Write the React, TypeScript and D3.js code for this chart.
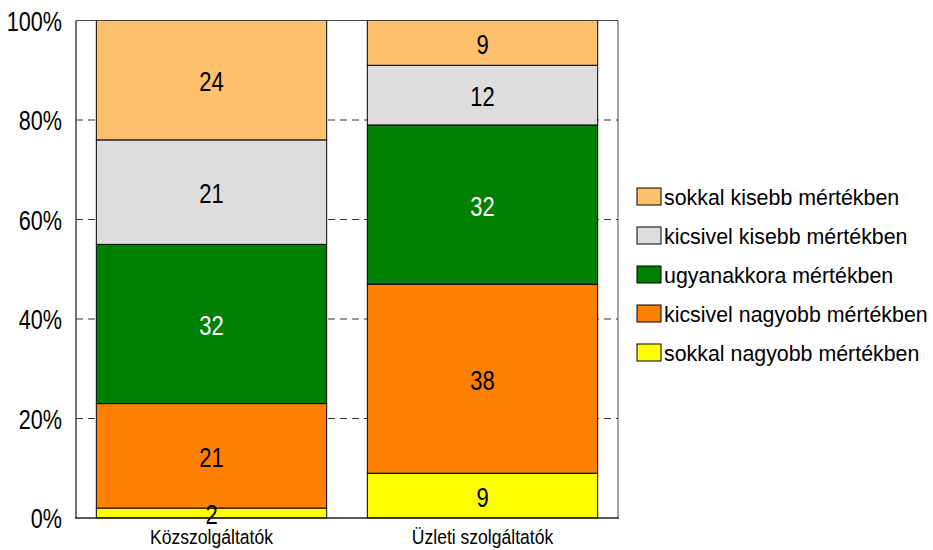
import React, { useEffect, useRef } from "react";
import * as d3 from "d3";

const WIDTH = 933;
const HEIGHT = 550;

const categories = ["Közszolgáltatók", "Üzleti szolgáltatók"];

// Series listed bottom-to-top of the stack
const seriesNames = [
  "sokkal nagyobb mértékben",
  "kicsivel nagyobb mértékben",
  "ugyanakkora mértékben",
  "kicsivel kisebb mértékben",
  "sokkal kisebb mértékben",
];
const seriesColors = ["#FFFF00", "#FF8000", "#008000", "#DDDDDD", "#FFC06C"];
const labelColors = ["#000", "#000", "#fff", "#000", "#000"];

const sokkalNagyobb = [2, 9];
const kicsivelNagyobb = [21, 38];
const ugyanakkora = [32, 32];
const kicsivelKisebb = [21, 12];
const sokkalKisebb = [24, 9];

const yTicks = [0, 20, 40, 60, 80, 100];

const FONT = "'Liberation Sans', Arial, sans-serif";

export default function App() {
  const ref = useRef<SVGSVGElement>(null);

  useEffect(() => {
    const svg = d3.select(ref.current);
    svg.selectAll("*").remove();

    const left = 76, right = 618, top = 20.5, bottom = 518;
    const values = [sokkalNagyobb, kicsivelNagyobb, ugyanakkora, kicsivelKisebb, sokkalKisebb];

    const rows = categories.map((c, i) => {
      const r: Record<string, any> = { cat: c };
      seriesNames.forEach((s, k) => (r[s] = values[k][i]));
      return r;
    });
    const stacked = d3.stack<any>().keys(seriesNames)(rows);

    const x = d3.scaleBand().domain(categories).range([left, right]).paddingInner(0.15).paddingOuter(0.075);
    const y = d3.scaleLinear().domain([0, 100]).range([bottom, top]);

    // condensed text: horizontal squeeze of a regular sans face
    const place = (tx: number, ty: number, sx: number) => `translate(${tx},${ty}) scale(${sx},1)`;

    // dashed gridlines
    svg.append("g")
      .selectAll("line")
      .data(yTicks.filter((t) => t > 0 && t < 100))
      .join("line")
      .attr("x1", left).attr("x2", right)
      .attr("y1", (d) => y(d)).attr("y2", (d) => y(d))
      .attr("stroke", "#333").attr("stroke-width", 1)
      .attr("stroke-dasharray", "7,5");

    // stacked bars
    const layers = svg.append("g")
      .selectAll("g")
      .data(stacked)
      .join("g")
      .attr("fill", (_d, i) => seriesColors[i]);

    layers.selectAll("rect")
      .data((d) => d.map((p) => ({ p, key: d.key })))
      .join("rect")
      .attr("x", (d) => x(d.p.data.cat)!)
      .attr("width", x.bandwidth())
      .attr("y", (d) => y(d.p[1]))
      .attr("height", (d) => y(d.p[0]) - y(d.p[1]))
      .attr("stroke", "#000").attr("stroke-width", 1);

    // value labels
    stacked.forEach((layer, k) => {
      svg.append("g")
        .selectAll("text")
        .data(layer)
        .join("text")
        .attr("transform", (d) =>
          place(x(d.data.cat)! + x.bandwidth() / 2, (y(d[0]) + y(d[1])) / 2 + 11, 0.8))
        .attr("text-anchor", "middle")
        .attr("font-family", FONT)
        .attr("font-size", 27.5)
        .attr("fill", labelColors[k])
        .text((d) => String(d[1] - d[0]));
    });

    // frame
    const frame = svg.append("g").attr("fill", "none");
    frame.append("line").attr("x1", left).attr("x2", right).attr("y1", top).attr("y2", top).attr("stroke", "#444");
    frame.append("line").attr("x1", right).attr("x2", right).attr("y1", top).attr("y2", bottom).attr("stroke", "#444");
    frame.append("line").attr("x1", left).attr("x2", left).attr("y1", top).attr("y2", bottom).attr("stroke", "#444").attr("stroke-width", 1.5);
    frame.append("line").attr("x1", left - 1).attr("x2", right + 1).attr("y1", bottom).attr("y2", bottom).attr("stroke", "#222").attr("stroke-width", 1.5);

    // y tick labels
    svg.append("g")
      .selectAll("text")
      .data(yTicks)
      .join("text")
      .attr("transform", (d) => place(62, y(d) + 10, 0.8))
      .attr("text-anchor", "end")
      .attr("font-family", FONT)
      .attr("font-size", 27)
      .attr("fill", "#000")
      .text((d) => `${d}%`);

    // category labels
    svg.append("g")
      .selectAll("text")
      .data(categories)
      .join("text")
      .attr("transform", (d) => place(x(d)! + x.bandwidth() / 2, 544, 0.9))
      .attr("text-anchor", "middle")
      .attr("font-family", FONT)
      .attr("font-size", 19.5)
      .attr("fill", "#000")
      .text((d) => d);

    // legend, top-to-bottom order
    const legendItems = seriesNames.map((n, i) => ({ n, c: seriesColors[i] })).reverse();
    const lg = svg.append("g").selectAll("g").data(legendItems).join("g")
      .attr("transform", (_d, i) => `translate(637, ${196.5 + i * 39})`);
    lg.append("rect").attr("x", 0).attr("y", -8.5).attr("width", 24).attr("height", 17)
      .attr("fill", (d) => d.c).attr("stroke", "#000").attr("stroke-width", 1);
    lg.append("text").attr("transform", place(27, 8.5, 0.93))
      .attr("font-family", FONT).attr("font-size", 23).attr("fill", "#000")
      .text((d) => d.n);
  }, []);

  return (
    <svg
      ref={ref}
      width={WIDTH}
      height={HEIGHT}
      style={{ position: "absolute", left: 0, top: 0, background: "#fff" }}
    />
  );
}
